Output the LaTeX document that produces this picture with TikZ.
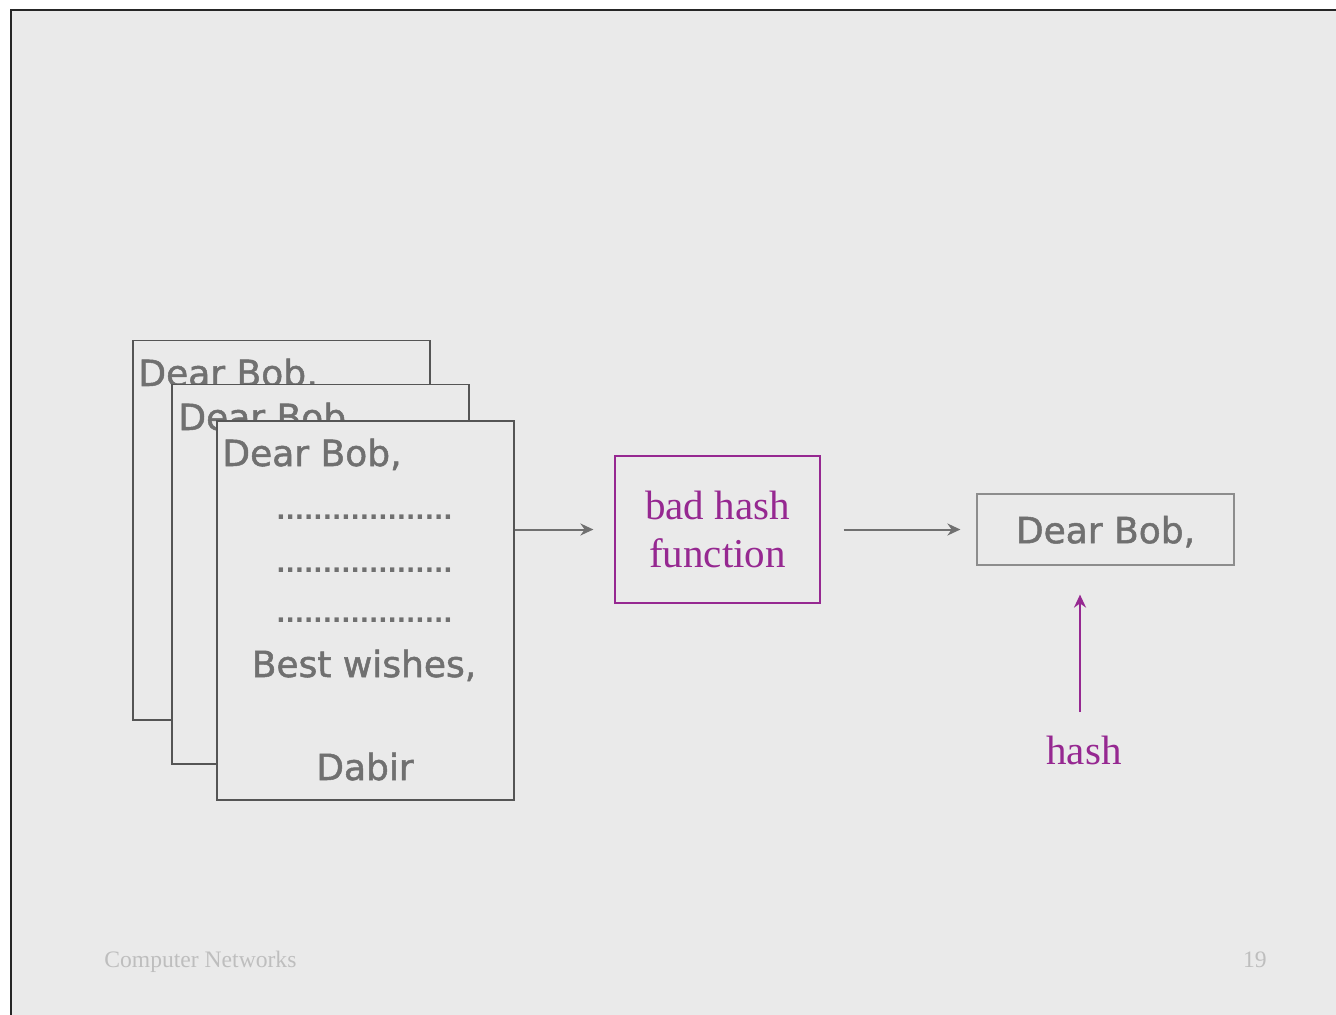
\documentclass[tikz,border=0pt]{standalone}
\usepackage{fontspec}
\setmainfont{Liberation Serif}
\newfontfamily\letterfont[FakeBold=1.4]{DejaVu Sans}
\newfontfamily\dotfont{DejaVu Sans Bold}
\usepackage{tikz}
\usetikzlibrary{calc}
\usetikzlibrary{positioning}
\usetikzlibrary{arrows.meta}

\definecolor{slidegrey}{RGB}{234,234,234}
\definecolor{inkgrey}{RGB}{112,112,112}
\definecolor{edgegrey}{RGB}{85,85,85}
\definecolor{hashpurple}{RGB}{150,40,145}
\definecolor{footgrey}{RGB}{190,190,190}

\begin{document}
\begin{tikzpicture}[x=0.5pt,y=-0.5pt,
	letter/.style={draw=edgegrey,fill=slidegrey,line width=0.75pt,anchor=north west,inner sep=0pt,minimum width=148.5pt,minimum height=189.5pt},
	handtext/.style={text=inkgrey,font=\letterfont\fontsize{18}{20}\selectfont,inner sep=0pt},
	dotline/.style={text=inkgrey,font=\dotfont\fontsize{12.2}{14}\selectfont,inner sep=0pt,anchor=base west},
	purplebox/.style={draw=hashpurple,line width=0.6pt,text=hashpurple,align=center,inner sep=0pt,minimum width=102.5pt,minimum height=73.5pt,font=\fontsize{20.5}{24}\selectfont},
	flow/.style={draw=inkgrey,line width=1pt,-{Stealth[length=6.5pt,width=6pt]}},
	footer/.style={text=footgrey,font=\fontsize{11.8}{14}\selectfont,inner sep=0pt,anchor=base west}]
	\useasboundingbox (0,0) rectangle (1336,1015);
	
	%slide background
	\fill[white] (0,0) rectangle (1336,1015);
	\fill[slidegrey] (11,10) rectangle (1336,1015);
	\draw[line width=1pt,black!85] (11,1015) -- (11,10) -- (1336,10);
	
	%stack of letters
	\foreach \i/\x/\y/\tx/\ty in {1/132/340/138/386, 2/171/384/178/430, 3/216/420/222/466} {
		\node[letter] (letter\i) at (\x,\y) {};
		\node[handtext,anchor=base west] (greet\i) at (\tx,\ty) {Dear Bob,};
	}
	
	%body of the front letter
	\foreach \i/\y in {1/519, 2/572, 3/622} {
		\node[dotline] (dots\i) at (276,\y) {...................};
	}
	\node[handtext,anchor=base] (wishes) at (364,677) {Best wishes,};
	\node[handtext,anchor=base] (sender) at (365,780) {Dabir};
	
	%hash function and result
	\node[purplebox] (badhash) at (717.5,529.5) {bad hash\\function};
	\node[draw=inkgrey!80,line width=0.6pt,inner sep=0pt,minimum width=128.5pt,minimum height=35.5pt,text=inkgrey,font=\letterfont\fontsize{18}{20}\selectfont,text depth=0pt] (digest) at (1105.5,529.5) {Dear Bob,};
	\node[text=hashpurple,font=\fontsize{20.5}{24}\selectfont,inner sep=0pt,anchor=base] (hashlabel) at (1084,764) {hash};
	\coordinate (hashfoot) at (1080,712);
	
	% Connect
	\draw[flow,shorten >=10.5pt] (letter3.east |- badhash.west) -- (badhash.west);
	\draw[flow,shorten <=11.5pt,shorten >=8pt] (badhash.east) -- (digest.west);
	\draw[flow,draw=hashpurple,shorten >=14.5pt] (hashfoot) -- (hashfoot |- digest.south);
	
	%footer
	\node[footer] (course) at (104,967) {Computer Networks};
	\node[footer,anchor=base east] (pagenum) at (1267,967) {19};
\end{tikzpicture}
\end{document}
